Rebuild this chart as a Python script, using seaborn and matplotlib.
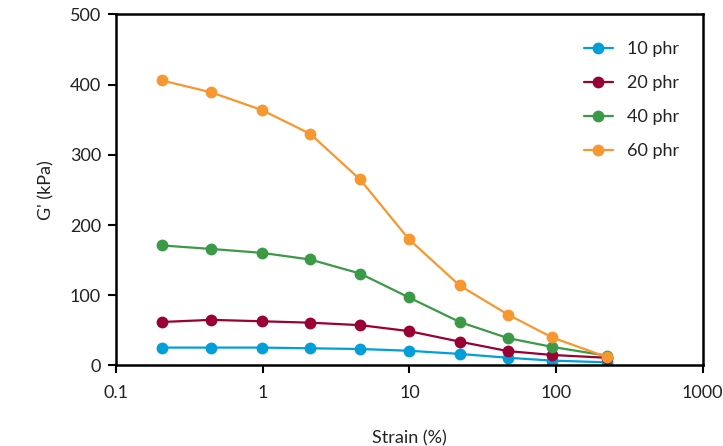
"""Strain sweep: storage modulus vs strain for different filler loadings."""
import matplotlib
matplotlib.use("Agg")
import matplotlib.pyplot as plt
import pandas as pd
import seaborn as sns
from matplotlib.ticker import FixedLocator, FixedFormatter, NullLocator

strain = [0.205, 0.445, 0.98, 2.1, 4.6, 9.9, 22, 47, 94, 222]
g_10phr = [25.5, 25.5, 25.5, 24.5, 23.5, 21, 16.5, 11, 7, 4.5]
g_20phr = [62, 65, 63, 61, 57.5, 49, 34, 20.5, 15, 11]
g_40phr = [171, 166, 160.5, 151, 131, 97, 62, 39, 26.5, 14]
g_60phr = [406, 389, 364, 330, 265, 180, 114, 72.5, 40, 12]
series = {"10 phr": g_10phr, "20 phr": g_20phr, "40 phr": g_40phr, "60 phr": g_60phr}
colors = ["#009fd9", "#990033", "#3a9a46", "#f7972f"]
x_ticks = [0.1, 1, 10, 100, 1000]
x_tick_labels = ["0.1", "1", "10", "100", "1000"]
y_ticks = [0, 100, 200, 300, 400, 500]

sns.set_theme(style="white")
plt.rcParams["font.family"] = ["Lato", "DejaVu Sans"]
plt.rcParams["text.color"] = "#222222"

df = pd.concat(
    [pd.DataFrame({"strain": strain, "G": vals, "loading": name}) for name, vals in series.items()],
    ignore_index=True,
)

fig = plt.figure(figsize=(7.23, 4.46), dpi=100)
ax = fig.add_axes([0.161, 0.1805, 0.8107, 0.787])
sns.lineplot(
    data=df, x="strain", y="G", hue="loading", palette=colors,
    marker="o", markersize=8.5, markeredgewidth=0, linewidth=1.6, ax=ax,
)
ax.set_xscale("log")
ax.set_xlim(0.1, 1000)
ax.set_ylim(0, 500)
ax.xaxis.set_major_locator(FixedLocator(x_ticks))
ax.xaxis.set_major_formatter(FixedFormatter(x_tick_labels))
ax.xaxis.set_minor_locator(NullLocator())
ax.set_yticks(y_ticks)
ax.tick_params(axis="both", direction="out", length=6, width=1.5, labelsize=13,
               labelcolor="#222222", color="black", pad=5)
ax.tick_params(axis="x", bottom=True, pad=8)
ax.tick_params(axis="y", left=True)
for spine in ax.spines.values():
    spine.set_color("black")
    spine.set_linewidth(1.8)
ax.set_xlabel("Strain (%)", fontsize=13, labelpad=21, color="#222222")
ax.set_ylabel("G' (kPa)", fontsize=13, labelpad=11, color="#222222")

leg = ax.legend(loc="upper left", bbox_to_anchor=(0.77, 0.97), frameon=False,
                fontsize=13, handlelength=1.6, labelspacing=1.0, handletextpad=0.8)

fig.savefig("out.png", dpi=100)
